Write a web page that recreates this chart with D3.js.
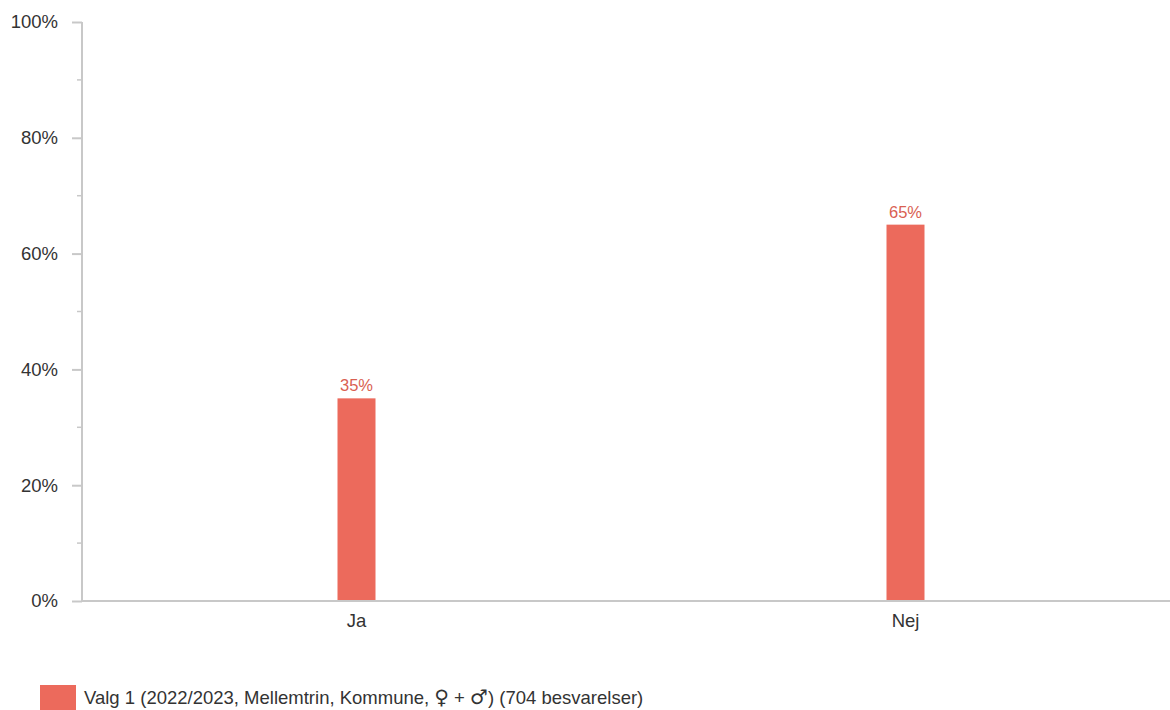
<!DOCTYPE html>
<html>
<head>
<meta charset="utf-8">
<script src="https://cdn.jsdelivr.net/npm/d3@7/dist/d3.min.js"></script>
<style>
html,body{margin:0;padding:0;background:#fff;}
svg{display:block;font-family:"Liberation Sans",Arial,sans-serif;}
</style>
</head>
<body>
<svg id="chart" width="1170" height="710"></svg>
<script>
const categories = ["Ja", "Nej"];
const values = [35, 65];
const valueLabels = ["35%", "65%"];
const yTicks = [0, 20, 40, 60, 80, 100];
const yMinorTicks = [10, 30, 50, 70, 90];
const legendParts = ["Valg 1 (2022/2023, Mellemtrin, Kommune, ", "\u2640\uFE0E", " + ", "\u2642\uFE0E", ") (704 besvarelser)"];

(function () {
const svg = d3.select("#chart");
const mLeft = 82, mRight = 1180, mTop = 22, mBottom = 601;
const barColor = "#ec6a5c";
const axisColor = "#c8c8c8";
const fs = "18.5px";

const x = d3.scaleBand().domain(categories).range([mLeft, mRight]);
const y = d3.scaleLinear().domain([0, 100]).range([mBottom, mTop]);
const barW = 38;

// Y axis
const gy = svg.append("g").attr("transform", `translate(${mLeft},0)`);
gy.call(d3.axisLeft(y).tickValues(yTicks).tickSize(10).tickPadding(14).tickFormat(d => d + "%"));
gy.select(".domain").remove();
gy.selectAll(".tick line").attr("stroke", axisColor).attr("stroke-width", 2);
gy.selectAll(".tick text").attr("fill", "#333").style("font-size", fs).style("font-family", "'Liberation Sans', Arial, sans-serif");
gy.selectAll(".minor").data(yMinorTicks).enter().append("line")
  .attr("x1", -5).attr("x2", 0).attr("y1", d => y(d)).attr("y2", d => y(d))
  .attr("stroke", axisColor).attr("stroke-width", 1.5);
gy.append("line").attr("x1", 0).attr("x2", 0).attr("y1", y(100)).attr("y2", y(0) + 1)
  .attr("stroke", axisColor).attr("stroke-width", 2);

// X axis
const gx = svg.append("g").attr("transform", `translate(0,${mBottom})`);
gx.call(d3.axisBottom(x).tickSize(0).tickPadding(13));
gx.select(".domain").remove();
gx.selectAll(".tick text").attr("fill", "#333").style("font-size", fs).style("font-family", "'Liberation Sans', Arial, sans-serif");
gx.append("line").attr("x1", mLeft - 1).attr("x2", 1170).attr("y1", 0).attr("y2", 0)
  .attr("stroke", axisColor).attr("stroke-width", 2);

// Bars
svg.selectAll(".bar").data(categories).enter().append("rect")
  .attr("x", d => x(d) + x.bandwidth() / 2 - barW / 2)
  .attr("width", barW)
  .attr("y", (d, i) => y(values[i]))
  .attr("height", (d, i) => y(0) - y(values[i]) - 1)
  .attr("fill", barColor);

svg.selectAll(".vlabel").data(categories).enter().append("text")
  .attr("x", d => x(d) + x.bandwidth() / 2)
  .attr("y", (d, i) => y(values[i]) - 7)
  .attr("text-anchor", "middle")
  .attr("fill", "#d95f52")
  .style("font-size", "16.5px")
  .text((d, i) => valueLabels[i]);

// Legend
svg.append("rect").attr("x", 40).attr("y", 685).attr("width", 36).attr("height", 25).attr("fill", barColor);
const lt = svg.append("text").attr("x", 84).attr("y", 704).attr("fill", "#333").style("font-size", fs);
lt.selectAll("tspan").data(legendParts).enter().append("tspan")
  .style("font-family", (d, i) => (i === 1 || i === 3) ? "'DejaVu Sans', sans-serif" : null)
  .style("font-size", (d, i) => (i === 1 || i === 3) ? "20px" : null)
  .text(d => d);
})();
</script>
</body>
</html>
